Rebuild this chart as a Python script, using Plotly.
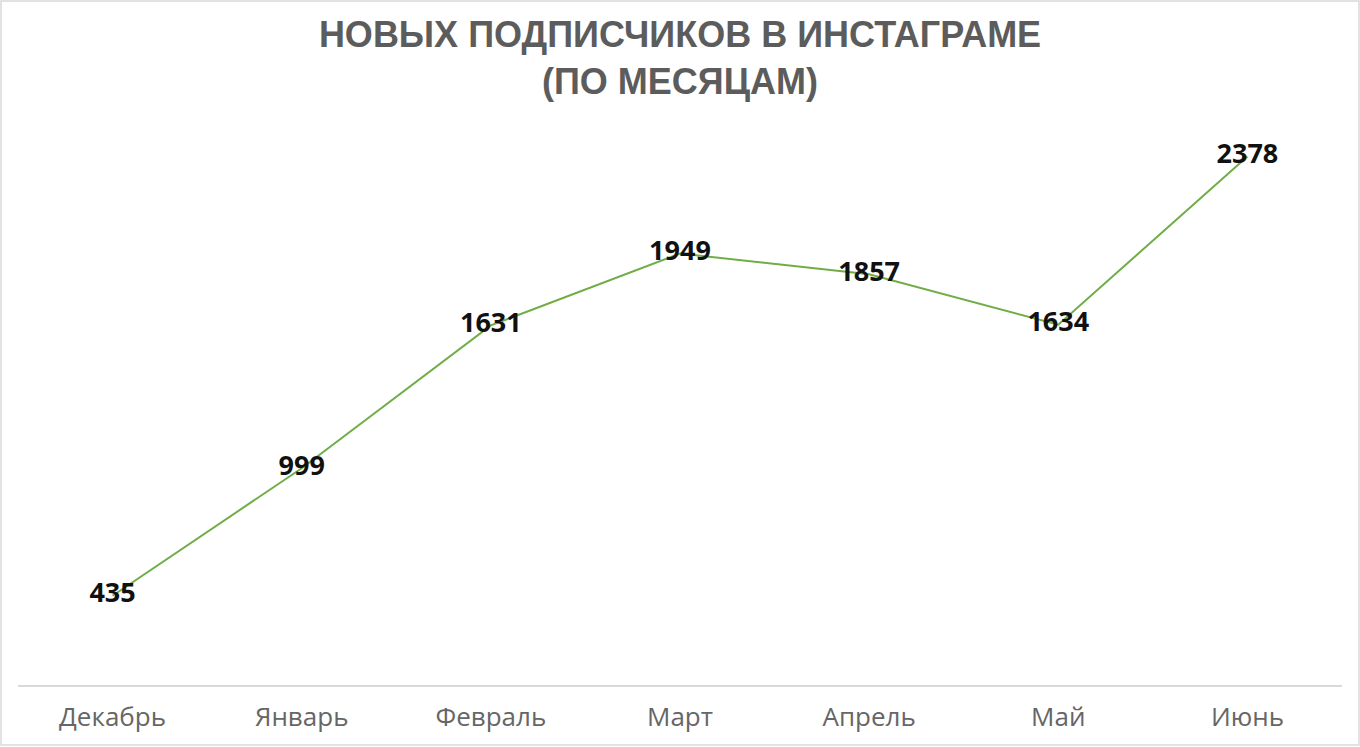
from plotly import graph_objects as go

months = ["Декабрь", "Январь", "Февраль", "Март", "Апрель", "Май", "Июнь"]
subscribers = [435, 999, 1631, 1949, 1857, 1634, 2378]

title_text = "НОВЫХ ПОДПИСЧИКОВ В ИНСТАГРАМЕ<br>(ПО МЕСЯЦАМ)"

W, H = 1360, 747
m_l, m_r, m_t, m_b = 18, 18, 129, 62
plot_w = W - m_l - m_r
plot_h = H - m_t - m_b

fig = go.Figure()
fig.add_trace(go.Scatter(
    x=months,
    y=subscribers,
    mode="lines+text",
    line=dict(color="#70AD47", width=2),
    text=[str(v) for v in subscribers],
    textposition="middle center",
    textfont=dict(family="Open Sans", size=27, color="#111111", weight="bold"),
    cliponaxis=False,
    hoverinfo="skip",
))

fig.update_layout(
    width=W,
    height=H,
    margin=dict(l=m_l, r=m_r, t=m_t, b=m_b),
    paper_bgcolor="white",
    plot_bgcolor="white",
    showlegend=False,
    title=dict(
        text=title_text,
        x=0.5,
        xanchor="center",
        y=1 - 47 / H,
        yanchor="middle",
        font=dict(family="Liberation Sans", size=36, color="#5c5c5c", weight="bold"),
    ),
    xaxis=dict(
        range=[-0.5, 6.5],
        showgrid=False,
        showline=True,
        linecolor="#D9D9D9",
        linewidth=1.5,
        ticks="",
        ticklabelstandoff=8,
        tickfont=dict(family="Open Sans", size=26, color="#666666"),
        zeroline=False,
    ),
    yaxis=dict(
        range=[40, 2500],
        showgrid=False,
        showticklabels=False,
        zeroline=False,
        showline=False,
    ),
    shapes=[dict(
        type="rect",
        xref="paper", yref="paper",
        x0=-(m_l - 1) / plot_w, x1=1 + (m_r - 1) / plot_w,
        y0=-(m_b - 2) / plot_h, y1=1 + (m_t - 1) / plot_h,
        line=dict(color="#D9D9D9", width=1.5),
        layer="below",
    )],
)

# the page has a default body margin; remove it so the figure sits at 0,0
fig.write_html("out.html", config={"displayModeBar": False},
               post_script="document.body.style.margin='0px';")
